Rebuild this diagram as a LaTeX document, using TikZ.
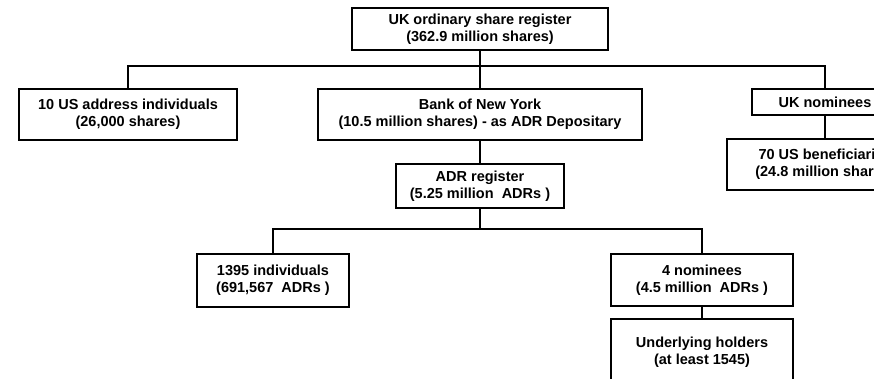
\documentclass[tikz,border=0pt]{standalone}
\usepackage{fontspec}
\setmainfont{Liberation Sans}
\usetikzlibrary{positioning, calc}

\tikzset{
  regbox/.style = {draw, rectangle, line width = 2pt, align = center,
    inner sep = 0pt, font = \bfseries\fontsize{14.5}{17}\selectfont},
  link/.style = {line width = 2pt}
}

\begin{document}
\begin{tikzpicture}[x = 1pt, y = -1pt]
        \useasboundingbox (0,0) rectangle (874,378);
        \node [regbox, minimum width = 256, minimum height = 42] (ukreg) at
        (480,29) {UK ordinary share register\\(362.9 million shares)};
        \node [regbox, minimum width = 218, minimum height = 51] (usind) at
        (128,114.5) {10 US address individuals\\(26,000 shares)};
        \node [regbox, minimum width = 324, minimum height = 51] (bny) at
        (480,114.5) {Bank of New York\\(10.5 million shares) - as ADR Depositary};
        \node [regbox, minimum width = 146, minimum height = 26] (uknom) at
        (825,102) {UK nominees};
        \node [regbox, minimum width = 196, minimum height = 51] (usben) at
        (825,164.5) {70 US beneficiaries\\(24.8 million shares)};
        \node [regbox, minimum width = 168, minimum height = 44] (adrreg) at
        (480,186) {ADR register\\(5.25 million\ \ ADRs )};
        \node [regbox, minimum width = 152, minimum height = 53] (indiv) at
        (273,280.5) {1395 individuals\\(691,567\ \ ADRs )};
        \node [regbox, minimum width = 182, minimum height = 52] (nomin) at
        (702,280) {4 nominees\\(4.5 million\ \ ADRs )};
        \node [regbox, minimum width = 182, minimum height = 66] (under) at
        (702,352) {Underlying holders\\(at least 1545)};
        % first level
        \draw [link] (ukreg.south) -- ++(0,15) coordinate (busA);
        \draw [link] (usind.north) |- (busA) -| (uknom.north);
        \draw [link] (busA) -- (bny.north);
        \draw [link] (uknom) -- (usben);
        % ADR side
        \draw [link] (bny) -- (adrreg);
        \draw [link] (adrreg.south) -- ++(0,20) coordinate (busB);
        \draw [link] (indiv.north) |- (busB) -| (nomin.north);
        \draw [link] (nomin) -- (under);
    \end{tikzpicture}
\end{document}
